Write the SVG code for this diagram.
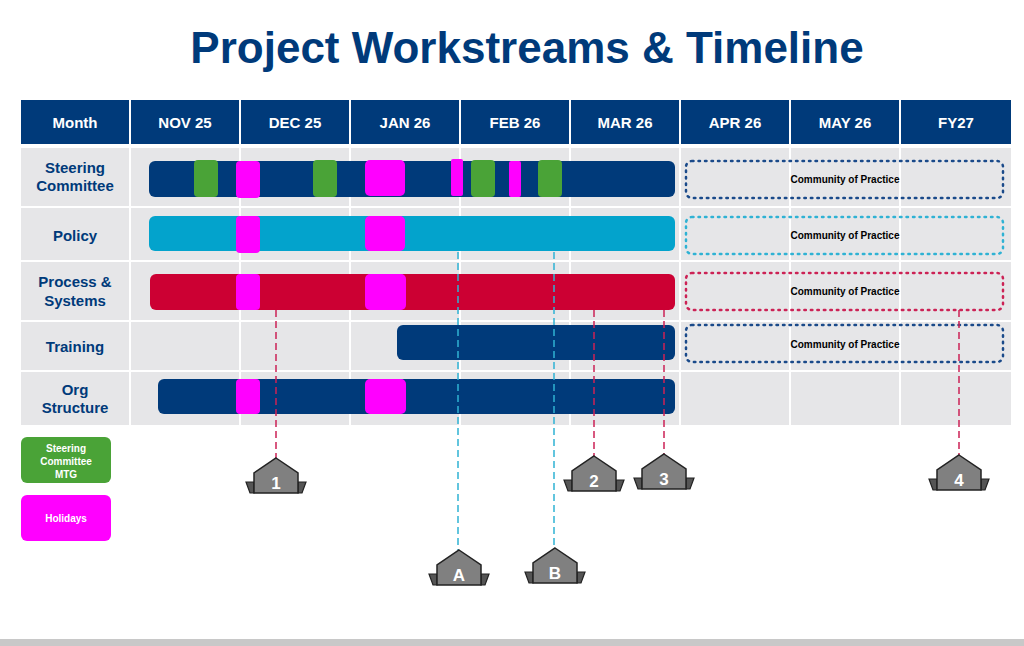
<svg xmlns="http://www.w3.org/2000/svg" width="1024" height="646" viewBox="0 0 1024 646">
<style>
text{font-family:"Liberation Sans",Arial,sans-serif;font-weight:bold}
.hd{fill:#003a7a}.hdt{fill:#fff;font-size:15px;text-anchor:middle}
.cell{fill:#e6e6e8}.rl{fill:#003a7a;font-size:15px;text-anchor:middle}
.nv{fill:#003a7a}.cy{fill:#03a3cc}.rd{fill:#cc0033}.gr{fill:#4aa337}.pk{fill:#ff00ff}
.cop{fill:none;stroke-width:2.5;stroke-dasharray:1.5 5;stroke-linecap:round}
.ct{font-size:10px;fill:#000;text-anchor:middle}
.dr{stroke:#cc2255;stroke-width:1.5;stroke-dasharray:7 4;fill:none}
.dc{stroke:#2fb2d4;stroke-width:1.5;stroke-dasharray:7 4;fill:none}
.mk{fill:#808080;stroke:#222;stroke-width:1.5}.fl{fill:#555;stroke:#222;stroke-width:1.2}
.ml{fill:#fff;font-size:17px;text-anchor:middle}
</style>
<defs>
<g id="marker">
<polygon class="fl" points="-30,24 -22,24 -22,35 -26,35"/>
<polygon class="fl" points="30,24 22,24 22,35 26,35"/>
<polygon class="mk" points="0,0 22,15 22,35 -22,35 -22,15"/>
</g>
</defs>
<rect width="1024" height="646" fill="#fff"/>
<rect y="639" width="1024" height="7" fill="#c8c8c8"/>
<text x="527" y="63" font-size="44" fill="#003a7a" text-anchor="middle">Project Workstreams &amp; Timeline</text>
<g id="grid">
<rect x="21" y="146" width="990" height="280" fill="#fff"/>
<g class="cell">
<rect x="21" y="148" width="990" height="58"/><rect x="21" y="208" width="990" height="52"/><rect x="21" y="262" width="990" height="58"/><rect x="21" y="322" width="990" height="48"/><rect x="21" y="372" width="990" height="53"/>
</g>
<g stroke="#fff" stroke-width="2"><line x1="130" y1="146" x2="130" y2="426"/><line x1="240" y1="146" x2="240" y2="426"/><line x1="350" y1="146" x2="350" y2="426"/><line x1="460" y1="146" x2="460" y2="426"/><line x1="570" y1="146" x2="570" y2="426"/><line x1="680" y1="146" x2="680" y2="426"/><line x1="790" y1="146" x2="790" y2="426"/><line x1="900" y1="146" x2="900" y2="426"/></g>
<g class="hd"><rect x="21" y="100" width="108" height="44"/><rect x="131" y="100" width="108" height="44"/><rect x="241" y="100" width="108" height="44"/><rect x="351" y="100" width="108" height="44"/><rect x="461" y="100" width="108" height="44"/><rect x="571" y="100" width="108" height="44"/><rect x="681" y="100" width="108" height="44"/><rect x="791" y="100" width="108" height="44"/><rect x="901" y="100" width="110" height="44"/></g>
<text class="hdt" x="75" y="128" font-size="16">Month</text><text class="hdt" x="185" y="128">NOV 25</text><text class="hdt" x="295" y="128">DEC 25</text><text class="hdt" x="405" y="128">JAN 26</text><text class="hdt" x="515" y="128">FEB 26</text><text class="hdt" x="625" y="128">MAR 26</text><text class="hdt" x="735" y="128">APR 26</text><text class="hdt" x="845" y="128">MAY 26</text><text class="hdt" x="956" y="128">FY27</text>
<text class="rl" x="75" y="173">Steering</text><text class="rl" x="75" y="191">Committee</text>
<text class="rl" x="75" y="241">Policy</text>
<text class="rl" x="75" y="287">Process &amp;</text><text class="rl" x="75" y="306">Systems</text>
<text class="rl" x="75" y="352">Training</text>
<text class="rl" x="75" y="395">Org</text><text class="rl" x="75" y="413">Structure</text>
</g>
<g id="steering">
<rect class="nv" x="149" y="161" width="526" height="36" rx="6"/>
<rect class="gr" x="194" y="160" width="24" height="37" rx="4"/><rect class="gr" x="313" y="160" width="24" height="37" rx="4"/><rect class="gr" x="471" y="160" width="24" height="37" rx="4"/><rect class="gr" x="538" y="160" width="24" height="37" rx="4"/>
<rect class="pk" x="236" y="161" width="24" height="37" rx="4"/><rect class="pk" x="365" y="160" width="40" height="36" rx="5"/><rect class="pk" x="451" y="159" width="12" height="37" rx="2"/><rect class="pk" x="509" y="161" width="12" height="36" rx="2"/>
</g>
<g id="policy">
<rect class="cy" x="149" y="216" width="526" height="35" rx="6"/>
<rect class="pk" x="236" y="216" width="24" height="37" rx="4"/><rect class="pk" x="365" y="216" width="40" height="35" rx="5"/>
</g>
<g id="process">
<rect class="rd" x="150" y="274" width="525" height="36" rx="6"/>
<rect class="pk" x="236" y="274" width="24" height="36" rx="4"/><rect class="pk" x="365" y="274" width="41" height="36" rx="5"/>
</g>
<g id="training"><rect class="nv" x="397" y="325" width="278" height="35" rx="6"/></g>
<g id="org">
<rect class="nv" x="158" y="379" width="517" height="35" rx="6"/>
<rect class="pk" x="236" y="379" width="24" height="35" rx="4"/><rect class="pk" x="365" y="379" width="41" height="35" rx="5"/>
</g>
<g id="cop">
<rect class="cop" stroke="#1a4a8a" x="686" y="161" width="317" height="37" rx="6"/><text class="ct" x="845" y="183">Community of Practice</text>
<rect class="cop" stroke="#2fb2d4" x="686" y="217" width="317" height="37" rx="6"/><text class="ct" x="845" y="239">Community of Practice</text>
<rect class="cop" stroke="#cc2255" x="686" y="273" width="317" height="37" rx="6"/><text class="ct" x="845" y="295">Community of Practice</text>
<rect class="cop" stroke="#1a4a8a" x="686" y="325" width="317" height="37" rx="6"/><text class="ct" x="845" y="348">Community of Practice</text>
</g>
<g id="legend">
<rect class="gr" x="21" y="437" width="90" height="46" rx="6"/>
<text x="66" y="452" font-size="10" fill="#fff" text-anchor="middle">Steering</text><text x="66" y="465" font-size="10" fill="#fff" text-anchor="middle">Committee</text><text x="66" y="478" font-size="10" fill="#fff" text-anchor="middle">MTG</text>
<rect class="pk" x="21" y="495" width="90" height="46" rx="6"/>
<text x="66" y="522" font-size="10" fill="#fff" text-anchor="middle">Holidays</text>
</g>
<g id="connectors">
<line class="dr" x1="276" y1="310" x2="276" y2="458"/>
<line class="dc" x1="458" y1="252" x2="458" y2="550"/>
<line class="dc" x1="554" y1="252" x2="554" y2="548"/>
<line class="dr" x1="594" y1="310" x2="594" y2="456"/>
<line class="dr" x1="664" y1="310" x2="664" y2="454"/>
<line class="dr" x1="959" y1="310" x2="959" y2="455"/>
</g>
<g id="m1"><use href="#marker" x="276" y="458"/><text class="ml" x="276" y="489">1</text></g>
<g id="mA"><use href="#marker" x="459" y="550"/><text class="ml" x="459" y="581">A</text></g>
<g id="mB"><use href="#marker" x="555" y="548"/><text class="ml" x="555" y="579">B</text></g>
<g id="m2"><use href="#marker" x="594" y="456"/><text class="ml" x="594" y="487">2</text></g>
<g id="m3"><use href="#marker" x="664" y="454"/><text class="ml" x="664" y="485">3</text></g>
<g id="m4"><use href="#marker" x="959" y="455"/><text class="ml" x="959" y="486">4</text></g>
</svg>
